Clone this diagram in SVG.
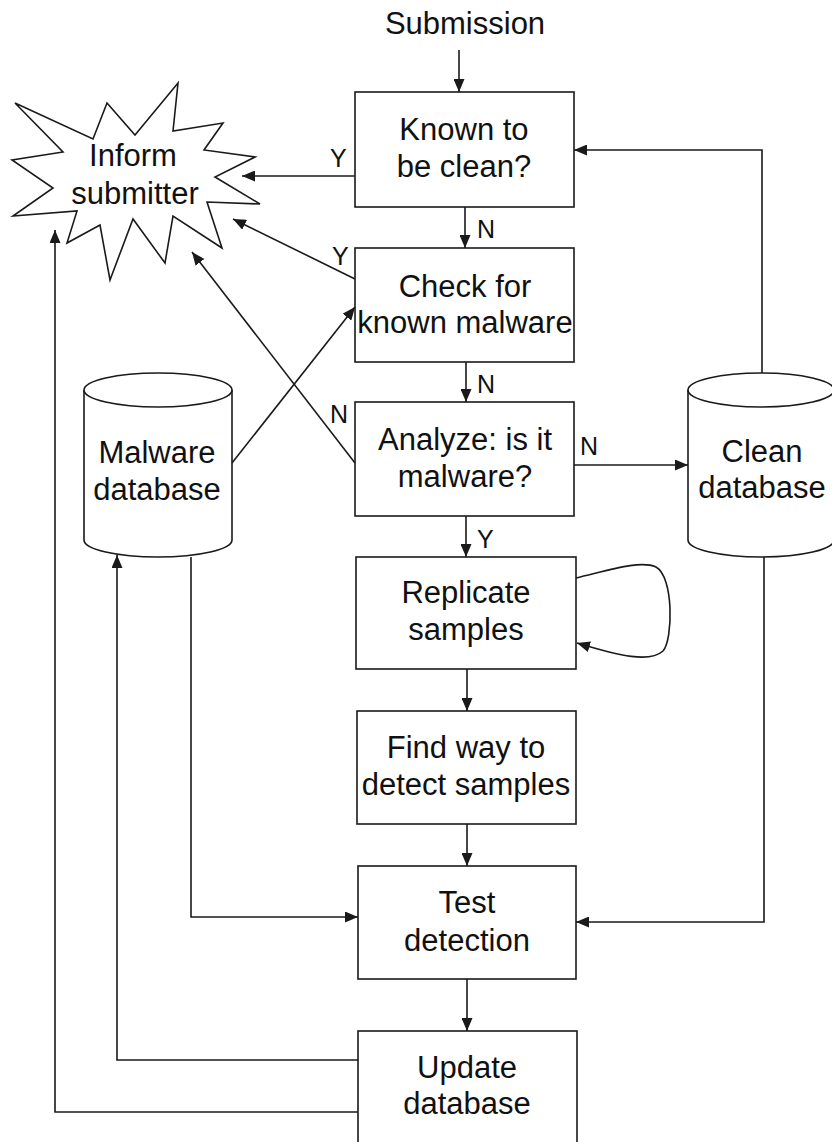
<svg xmlns="http://www.w3.org/2000/svg" width="832" height="1142" viewBox="0 0 832 1142">
<style>
.box{fill:#fff;stroke:#1a1a1a;stroke-width:1.6}
.db{fill:#fff;stroke:#1a1a1a;stroke-width:1.6}
.ln{fill:none;stroke:#1a1a1a;stroke-width:1.6}
.t{font-family:"Liberation Sans",Arial,Helvetica,sans-serif;font-size:31px;fill:#111;text-anchor:middle}
.lb{font-family:"Liberation Sans",Arial,Helvetica,sans-serif;font-size:25px;fill:#111}
</style>
<defs>
<marker id="ah" markerUnits="userSpaceOnUse" markerWidth="13" markerHeight="11" refX="13" refY="5.5" orient="auto">
<path d="M0,0 L13,5.5 L0,11 z" fill="#1a1a1a"/>
</marker>
</defs>
<rect width="832" height="1142" fill="#fff"/>

<text class="t" x="465" y="34">Submission</text>

<g id="inform">
<polygon class="box" points="15,103 93,139 107,103 135,135 178,83 173,131 223,123 204,150 255,157 215,177 260,204 207,202 222,248 173,216 165,263 133,219 110,280 100,225 67,243 77,211 13,216 53,188 12,160 63,152"/>
<text class="t" x="133" y="166">Inform</text>
<text class="t" x="135" y="204">submitter</text>
</g>

<g id="known">
<rect class="box" x="355" y="92" width="219" height="115"/>
<text class="t" x="464" y="140">Known to</text>
<text class="t" x="464" y="177">be clean?</text>
</g>

<g id="check">
<rect class="box" x="355" y="248" width="219" height="114"/>
<text class="t" x="465" y="297">Check for</text>
<text class="t" x="465" y="333">known malware</text>
</g>

<g id="analyze">
<rect class="box" x="355" y="402" width="219" height="114"/>
<text class="t" x="465" y="450">Analyze: is it</text>
<text class="t" x="465" y="487">malware?</text>
</g>

<g id="replicate">
<rect class="box" x="356" y="557" width="220" height="112"/>
<text class="t" x="466" y="603">Replicate</text>
<text class="t" x="466" y="640">samples</text>
</g>

<g id="find">
<rect class="box" x="357" y="711" width="219" height="113"/>
<text class="t" x="466" y="758">Find way to</text>
<text class="t" x="466" y="795">detect samples</text>
</g>

<g id="test">
<rect class="box" x="358" y="866" width="218" height="113"/>
<text class="t" x="467" y="913">Test</text>
<text class="t" x="467" y="951">detection</text>
</g>

<g id="update">
<rect class="box" x="358" y="1031" width="219" height="125"/>
<text class="t" x="467" y="1078">Update</text>
<text class="t" x="467" y="1114">database</text>
</g>

<g id="malwaredb">
<path class="db" d="M84,390 L84,540 A74,17 0 0 0 232,540 L232,390"/>
<ellipse class="db" cx="158" cy="390" rx="74" ry="17"/>
<text class="t" x="157" y="463">Malware</text>
<text class="t" x="157" y="500">database</text>
</g>

<g id="cleandb">
<path class="db" d="M688,390 L688,540 A73,17 0 0 0 834,540 L834,390"/>
<ellipse class="db" cx="761" cy="390" rx="73" ry="17"/>
<text class="t" x="762" y="462">Clean</text>
<text class="t" x="762" y="498">database</text>
</g>

<g id="connectors">
<line class="ln" x1="459" y1="50" x2="459" y2="92" marker-end="url(#ah)"/>
<line class="ln" x1="465" y1="207" x2="465" y2="248" marker-end="url(#ah)"/>
<line class="ln" x1="466" y1="362" x2="466" y2="402" marker-end="url(#ah)"/>
<line class="ln" x1="466" y1="516" x2="466" y2="557" marker-end="url(#ah)"/>
<line class="ln" x1="467" y1="669" x2="467" y2="711" marker-end="url(#ah)"/>
<line class="ln" x1="467" y1="824" x2="467" y2="866" marker-end="url(#ah)"/>
<line class="ln" x1="467" y1="979" x2="467" y2="1031" marker-end="url(#ah)"/>

<line class="ln" x1="355" y1="176" x2="242" y2="176" marker-end="url(#ah)"/>
<line class="ln" x1="355" y1="279" x2="233" y2="219" marker-end="url(#ah)"/>
<line class="ln" x1="355" y1="463" x2="192" y2="252" marker-end="url(#ah)"/>
<line class="ln" x1="232" y1="463" x2="355" y2="307" marker-end="url(#ah)"/>

<line class="ln" x1="574" y1="465" x2="688" y2="465" marker-end="url(#ah)"/>
<polyline class="ln" points="762,373 762,150 574,150" marker-end="url(#ah)"/>
<polyline class="ln" points="764,557 764,922 576,922" marker-end="url(#ah)"/>
<polyline class="ln" points="191,557 191,917 358,917" marker-end="url(#ah)"/>
<polyline class="ln" points="358,1060 117,1060 117,555" marker-end="url(#ah)"/>
<polyline class="ln" points="358,1112 55,1112 55,230" marker-end="url(#ah)"/>

<path class="ln" d="M576,578 C610,570 640,560 656,567 C674,577 673,640 663,651 C650,663 620,656 577,643" marker-end="url(#ah)"/>

<text class="lb" x="330" y="167">Y</text>
<text class="lb" x="477" y="238">N</text>
<text class="lb" x="332" y="265">Y</text>
<text class="lb" x="477" y="393">N</text>
<text class="lb" x="330" y="423">N</text>
<text class="lb" x="580" y="455">N</text>
<text class="lb" x="477" y="548">Y</text>
</g>
</svg>
